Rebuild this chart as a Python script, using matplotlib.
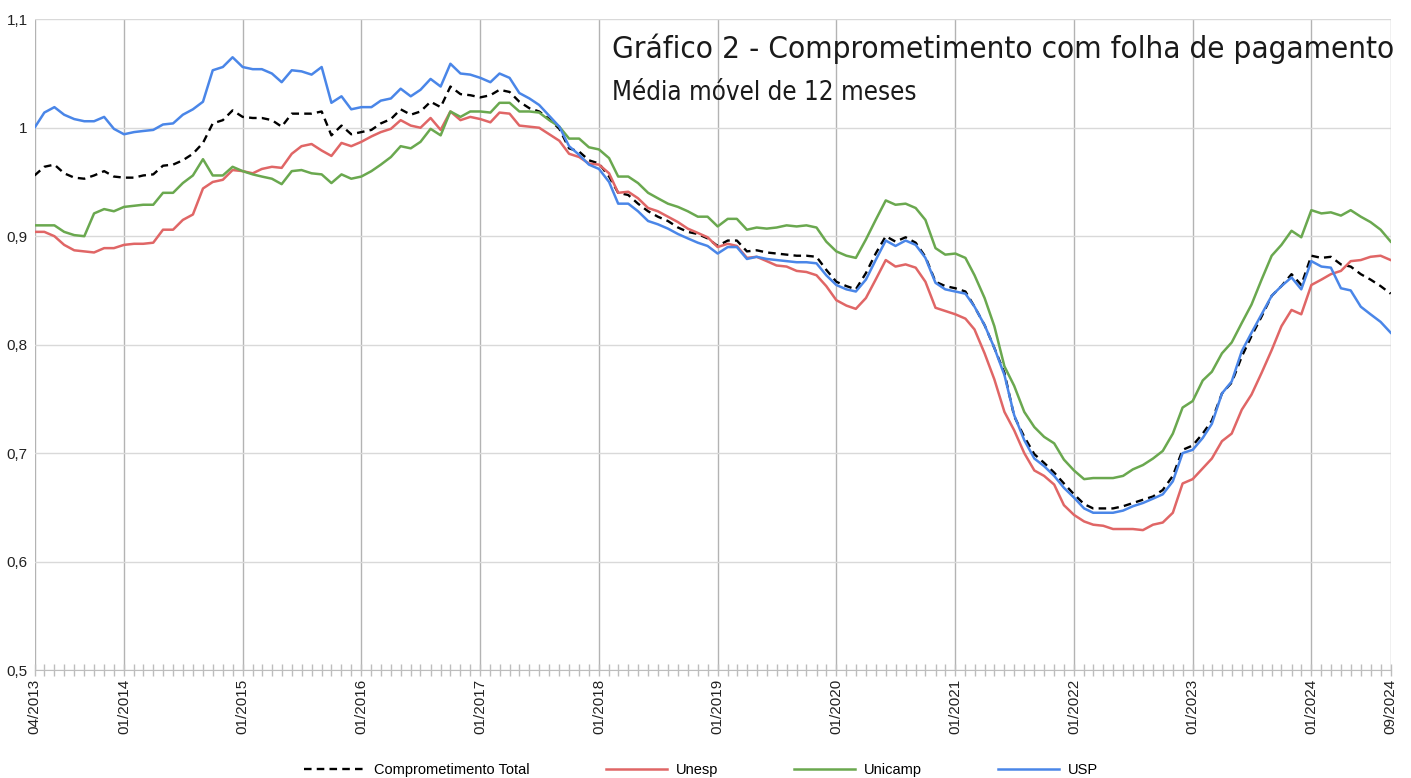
import matplotlib
matplotlib.use('Agg')
import matplotlib.pyplot as plt
import matplotlib.dates as mdates
import matplotlib.ticker as mticker
import pandas as pd

plt.rcParams['font.family'] = ['Liberation Sans', 'DejaVu Sans']

# monthly series, 04/2013 .. 09/2024 (12-month moving average)
months = pd.date_range('2013-04-01', '2024-09-01', freq='MS')

total = [0.956, 0.964, 0.966, 0.958, 0.954, 0.953, 0.956, 0.960, 0.955,
         0.954, 0.954, 0.956, 0.957, 0.965, 0.966, 0.970, 0.976, 0.986, 1.004, 1.007, 1.016,
         1.010, 1.009, 1.009, 1.007, 1.001, 1.013, 1.013, 1.013, 1.015, 0.993, 1.002, 0.994,
         0.996, 0.998, 1.004, 1.008, 1.017, 1.012, 1.015, 1.024, 1.019, 1.038, 1.031, 1.030,
         1.028, 1.030, 1.035, 1.033, 1.024, 1.018, 1.015, 1.008, 0.999, 0.981, 0.978, 0.970,
         0.967, 0.955, 0.940, 0.938, 0.930, 0.923, 0.918, 0.914, 0.908, 0.904, 0.902, 0.898,
         0.891, 0.896, 0.896, 0.886, 0.887, 0.885, 0.884, 0.883, 0.882, 0.882, 0.881, 0.869,
         0.858, 0.854, 0.851, 0.866, 0.884, 0.900, 0.895, 0.899, 0.894, 0.881, 0.858, 0.854,
         0.852, 0.849, 0.835, 0.818, 0.797, 0.774, 0.734, 0.715, 0.699, 0.691, 0.682, 0.672,
         0.662, 0.653, 0.649, 0.649, 0.649, 0.651, 0.654, 0.657, 0.660, 0.666, 0.679, 0.703,
         0.707, 0.718, 0.730, 0.755, 0.765, 0.789, 0.808, 0.826, 0.845, 0.854, 0.865, 0.855,
         0.882, 0.880, 0.881, 0.874, 0.872, 0.865, 0.860, 0.854, 0.847]

unesp = [0.904, 0.904, 0.900, 0.892, 0.887, 0.886, 0.885, 0.889, 0.889,
         0.892, 0.893, 0.893, 0.894, 0.906, 0.906, 0.915, 0.920, 0.944, 0.950, 0.952, 0.961,
         0.960, 0.958, 0.962, 0.964, 0.963, 0.976, 0.983, 0.985, 0.979, 0.974, 0.986, 0.983,
         0.987, 0.992, 0.996, 0.999, 1.007, 1.002, 1.000, 1.009, 0.998, 1.015, 1.007, 1.010,
         1.008, 1.005, 1.014, 1.013, 1.002, 1.001, 1.000, 0.994, 0.988, 0.976, 0.973, 0.967,
         0.966, 0.958, 0.940, 0.941, 0.935, 0.926, 0.923, 0.918, 0.913, 0.907, 0.903, 0.899,
         0.890, 0.893, 0.891, 0.880, 0.881, 0.877, 0.873, 0.872, 0.868, 0.867, 0.864, 0.854,
         0.841, 0.836, 0.833, 0.843, 0.860, 0.878, 0.872, 0.874, 0.871, 0.858, 0.834, 0.831,
         0.828, 0.824, 0.814, 0.792, 0.768, 0.738, 0.721, 0.700, 0.684, 0.679, 0.671, 0.652,
         0.643, 0.637, 0.634, 0.633, 0.630, 0.630, 0.630, 0.629, 0.634, 0.636, 0.645, 0.672,
         0.676, 0.686, 0.695, 0.711, 0.718, 0.740, 0.754, 0.774, 0.795, 0.817, 0.832, 0.828,
         0.855, 0.860, 0.865, 0.868, 0.877, 0.878, 0.881, 0.882, 0.878]

unicamp = [0.910, 0.910, 0.910, 0.904, 0.901, 0.900, 0.921, 0.925, 0.923,
           0.927, 0.928, 0.929, 0.929, 0.940, 0.940, 0.949, 0.956, 0.971, 0.956, 0.956, 0.964,
           0.960, 0.957, 0.955, 0.953, 0.948, 0.960, 0.961, 0.958, 0.957, 0.949, 0.957, 0.953,
           0.955, 0.960, 0.966, 0.973, 0.983, 0.981, 0.987, 0.999, 0.993, 1.015, 1.010, 1.015,
           1.015, 1.014, 1.023, 1.023, 1.015, 1.015, 1.014, 1.007, 1.001, 0.990, 0.990, 0.982,
           0.980, 0.972, 0.955, 0.955, 0.949, 0.940, 0.935, 0.930, 0.927, 0.923, 0.918, 0.918,
           0.909, 0.916, 0.916, 0.906, 0.908, 0.907, 0.908, 0.910, 0.909, 0.910, 0.908, 0.895,
           0.886, 0.882, 0.880, 0.897, 0.915, 0.933, 0.929, 0.930, 0.926, 0.915, 0.889, 0.883,
           0.884, 0.880, 0.864, 0.843, 0.817, 0.780, 0.762, 0.738, 0.724, 0.715, 0.709, 0.694,
           0.684, 0.676, 0.677, 0.677, 0.677, 0.679, 0.685, 0.689, 0.695, 0.702, 0.718, 0.742,
           0.748, 0.767, 0.775, 0.792, 0.802, 0.820, 0.837, 0.860, 0.882, 0.892, 0.905, 0.899,
           0.924, 0.921, 0.922, 0.919, 0.924, 0.918, 0.913, 0.906, 0.895]

usp = [1.000, 1.014, 1.019, 1.012, 1.008, 1.006, 1.006, 1.010, 0.999,
       0.994, 0.996, 0.997, 0.998, 1.003, 1.004, 1.012, 1.017, 1.024, 1.053, 1.056, 1.065,
       1.056, 1.054, 1.054, 1.050, 1.042, 1.053, 1.052, 1.049, 1.056, 1.023, 1.029, 1.017,
       1.019, 1.019, 1.025, 1.027, 1.036, 1.029, 1.035, 1.045, 1.038, 1.059, 1.050, 1.049,
       1.046, 1.042, 1.050, 1.046, 1.032, 1.027, 1.021, 1.011, 1.001, 0.983, 0.975, 0.966,
       0.962, 0.950, 0.930, 0.930, 0.923, 0.914, 0.911, 0.907, 0.902, 0.898, 0.894, 0.891,
       0.884, 0.890, 0.890, 0.879, 0.881, 0.879, 0.878, 0.877, 0.876, 0.876, 0.875, 0.864,
       0.855, 0.851, 0.849, 0.860, 0.878, 0.896, 0.891, 0.896, 0.892, 0.880, 0.857, 0.851,
       0.849, 0.847, 0.835, 0.818, 0.797, 0.772, 0.735, 0.712, 0.695, 0.688, 0.679, 0.668,
       0.659, 0.649, 0.645, 0.645, 0.645, 0.647, 0.651, 0.654, 0.658, 0.662, 0.674, 0.700,
       0.703, 0.714, 0.727, 0.755, 0.766, 0.794, 0.811, 0.828, 0.845, 0.854, 0.862, 0.851,
       0.877, 0.872, 0.871, 0.852, 0.850, 0.835, 0.828, 0.821, 0.811]

tick_dates = ['2013-04-01'] + ['%d-01-01' % y for y in range(2014, 2025)] + ['2024-09-01']
y_ticks = [0.5, 0.6, 0.7, 0.8, 0.9, 1.0, 1.1]

fig = plt.figure(figsize=(14.11, 7.78), dpi=100)
ax = fig.add_axes([0.0245, 0.1388, 0.9611, 0.8364])

ax.plot(months, total, color='black', lw=1.7, dashes=(3.2, 2.2), label='Comprometimento Total')
ax.plot(months, unesp, color='#e06666', lw=1.8, label='Unesp')
ax.plot(months, unicamp, color='#6aa84f', lw=1.8, label='Unicamp')
ax.plot(months, usp, color='#4a86e8', lw=1.8, label='USP')

# x axis
ax.set_xlim(months[0], months[-1])
ax.set_xticks(pd.to_datetime(tick_dates))
ax.xaxis.set_major_formatter(mdates.DateFormatter('%m/%Y'))
ax.xaxis.set_minor_locator(mdates.MonthLocator())
ax.tick_params(axis='x', which='both', direction='inout', length=9, width=1,
               color='#bdbdbd', labelsize=11, labelcolor='#222222', pad=2)
for lbl in ax.get_xticklabels():
    lbl.set_rotation(90)

# y axis
ax.set_ylim(0.5, 1.1)
ax.set_yticks(y_ticks)
ax.yaxis.set_major_formatter(mticker.FuncFormatter(
    lambda v, pos: ('%g' % round(v, 2)).replace('.', ',')))
ax.tick_params(axis='y', length=0, labelsize=11, labelcolor='#222222', pad=5)

for s in ['top', 'right', 'left']:
    ax.spines[s].set_visible(False)
ax.spines['bottom'].set_color('#bdbdbd')

ax.grid(axis='y', color='#d9d9d9', lw=1)
ax.grid(axis='x', which='major', color='#b3b3b3', lw=1)
ax.set_axisbelow(True)

fig.text(0.4337, 0.937, 'Gráfico 2 - Comprometimento com folha de pagamento',
         fontsize=22.6, color='#1a1a1a', va='center', ha='left',
         family='DejaVu Sans', fontstretch='condensed')
fig.text(0.4337, 0.880, 'Média móvel de 12 meses', fontsize=18.5, color='#1a1a1a',
         va='center', ha='left', family='DejaVu Sans', fontstretch='condensed')

fig.legend(loc='center', bbox_to_anchor=(0.497, 0.0105), ncol=4, frameon=False,
           fontsize=10.5, handlelength=4.2, handletextpad=0.6, columnspacing=5.2)

plt.savefig('out.png', dpi=100)
